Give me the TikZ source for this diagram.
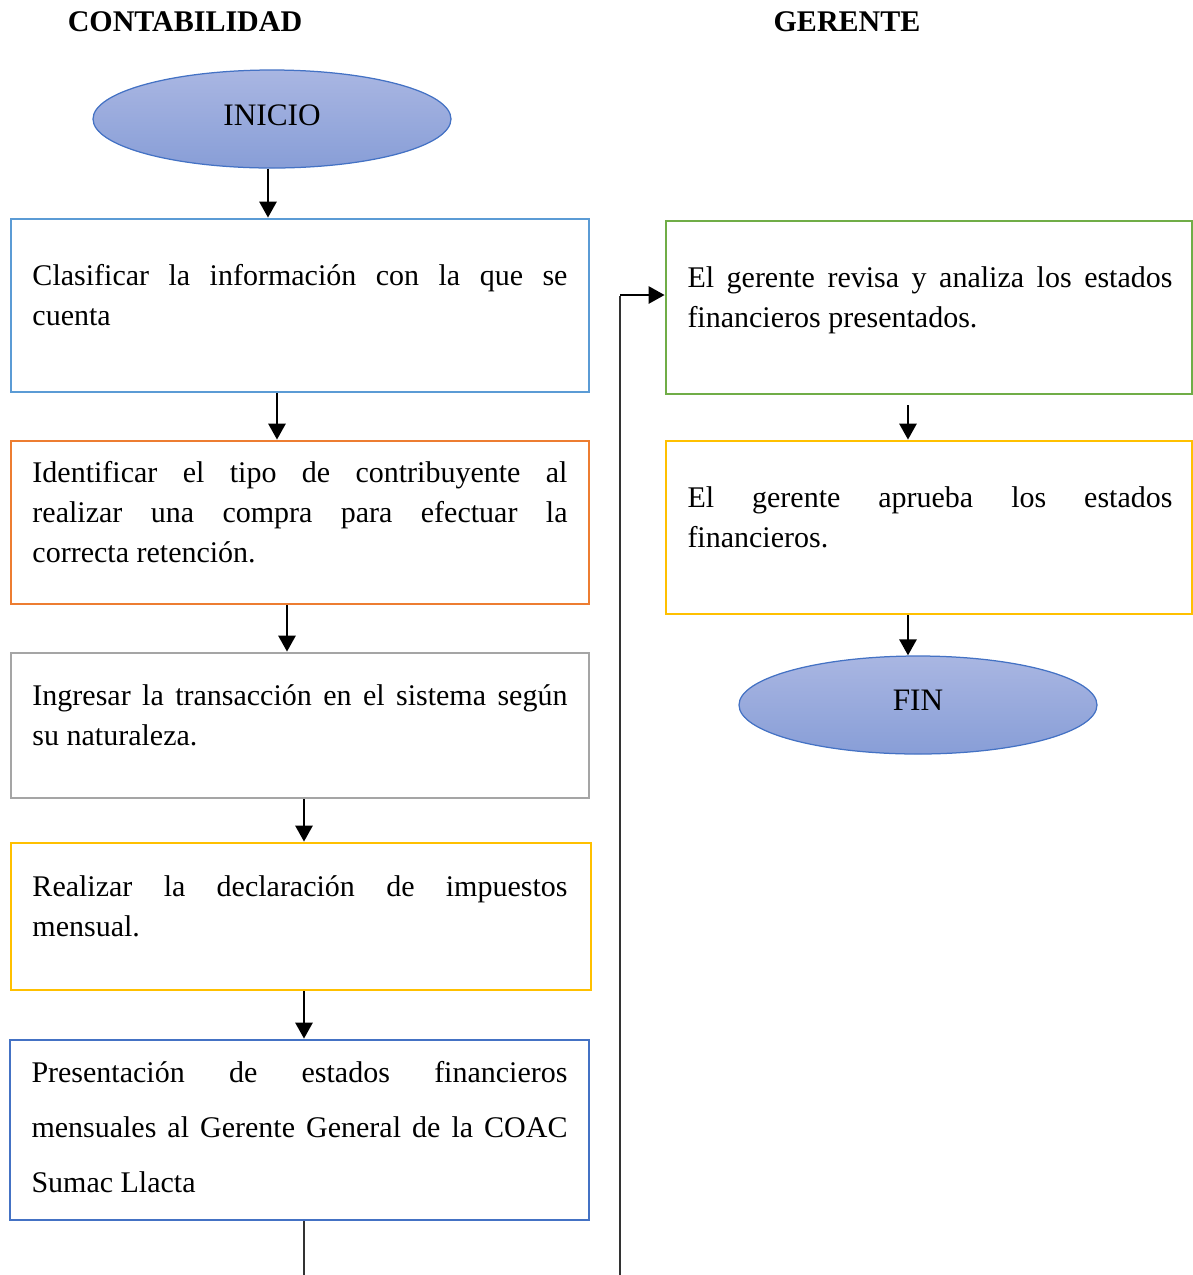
\documentclass[tikz,border=0pt]{standalone}
\usepackage{fontspec}
\setmainfont{Liberation Serif}
\usetikzlibrary{shapes.geometric,arrows.meta,fit}

\definecolor{cBlueL}{HTML}{5B9BD5}
\definecolor{cOrange}{HTML}{ED7D31}
\definecolor{cGray}{HTML}{A5A5A5}
\definecolor{cGold}{HTML}{FFC000}
\definecolor{cBlueD}{HTML}{4472C4}
\definecolor{cGreen}{HTML}{70AD47}
\definecolor{cEllTop}{RGB}{169,182,226}
\definecolor{cEllBot}{RGB}{136,158,215}

\begin{document}
% no word breaking inside the boxes
\hyphenpenalty=10000
\exhyphenpenalty=10000
\begin{tikzpicture}[x=0.4pt,y=-0.4pt,
  stepbox/.style={draw=#1,line width=1.1pt,inner sep=0pt,rectangle},
  term/.style={ellipse,draw=cBlueD,line width=0.5pt,top color=cEllTop,bottom color=cEllBot,
    minimum width=143.2pt,minimum height=39.2pt,inner sep=0pt,font=\fontsize{12.5}{15}\selectfont},
  txt/.style={anchor=north west,inner sep=0pt,align=justify,font=\fontsize{12}{16}\selectfont},
  head/.style={font=\fontsize{12}{14}\selectfont\bfseries},
  flow/.style={line width=1.1pt,-{Triangle[width=6.8pt,length=6.4pt]}},
  thinline/.style={line width=0.5pt,black!80}]

\useasboundingbox (0,0) rectangle (1193,1275);

% column headings
\node[head] (hcont) at (185,22) {CONTABILIDAD};
\node[head] (hger) at (847,22) {GERENTE};

% terminals
\node[term] (ini) at (272,119) {\raisebox{3.4pt}{INICIO}};
\node[term] (fin) at (918,705) {\raisebox{3.4pt}{FIN}};

% process boxes, left column
\node[stepbox=cBlueL,fit={(11,219) (589,392)}] (b1) {};
\node[stepbox=cOrange,fit={(11,441) (589,604)}] (b2) {};
\node[stepbox=cGray,fit={(11,653) (589,798)}] (b3) {};
\node[stepbox=cGold,fit={(11,843) (591,990)}] (b4) {};
\node[stepbox=cBlueD,fit={(10,1040) (589,1220)}] (b5) {};

% process boxes, right column
\node[stepbox=cGreen,fit={(666,221) (1192,394)}] (b6) {};
\node[stepbox=cGold,fit={(666,441) (1192,614)}] (b7) {};

% box texts
\node[txt,text width=214pt] (t1) at (32,257) {\strut Clasificar la información con la que se\linebreak cuenta};
\node[txt,text width=214pt] (t2) at (32,454) {\strut Identificar el tipo de contribuyente al\linebreak realizar una compra para efectuar la\linebreak correcta retención.};
\node[txt,text width=214pt] (t3) at (32,677) {\strut Ingresar la transacción en el sistema según\linebreak su naturaleza.};
\node[txt,text width=214pt] (t4) at (32,868) {\strut Realizar la declaración de impuestos\linebreak mensual.};
\node[txt,text width=214.4pt,font=\fontsize{12}{22}\selectfont] (t5) at (31,1043) {\strut Presentación de estados financieros\linebreak mensuales al Gerente General de la COAC\linebreak Sumac Llacta};
\node[txt,text width=194pt] (t6) at (687,259) {\strut El gerente revisa y analiza los estados\linebreak financieros presentados.};
\node[txt,text width=194pt] (t7) at (687,479) {\strut El gerente aprueba los estados\linebreak financieros.};

% connectors
\draw[flow] (268,0 |- ini.south) -- (268,0 |- b1.north);
\draw[flow] (277,0 |- b1.south) -- (277,0 |- b2.north);
\draw[flow] (287,0 |- b2.south) -- (287,0 |- b3.north);
\draw[flow] (304,0 |- b3.south) -- (304,0 |- b4.north);
\draw[flow] (304,0 |- b4.south) -- (304,0 |- b5.north);

\coordinate (outA) at (304,1275);
\coordinate (outB) at (620,1275);
\draw[thinline] (304,0 |- b5.south) -- (outA);
\draw[thinline] (outB) -- (620,296);
\draw[flow] (620,295) -- (b6.west |- 620,295);

\draw[flow,shorten <=4pt] (908,0 |- b6.south) -- (908,0 |- b7.north);
\draw[flow] (908,0 |- b7.south) -- (908,0 |- fin.north);

\end{tikzpicture}
\end{document}
